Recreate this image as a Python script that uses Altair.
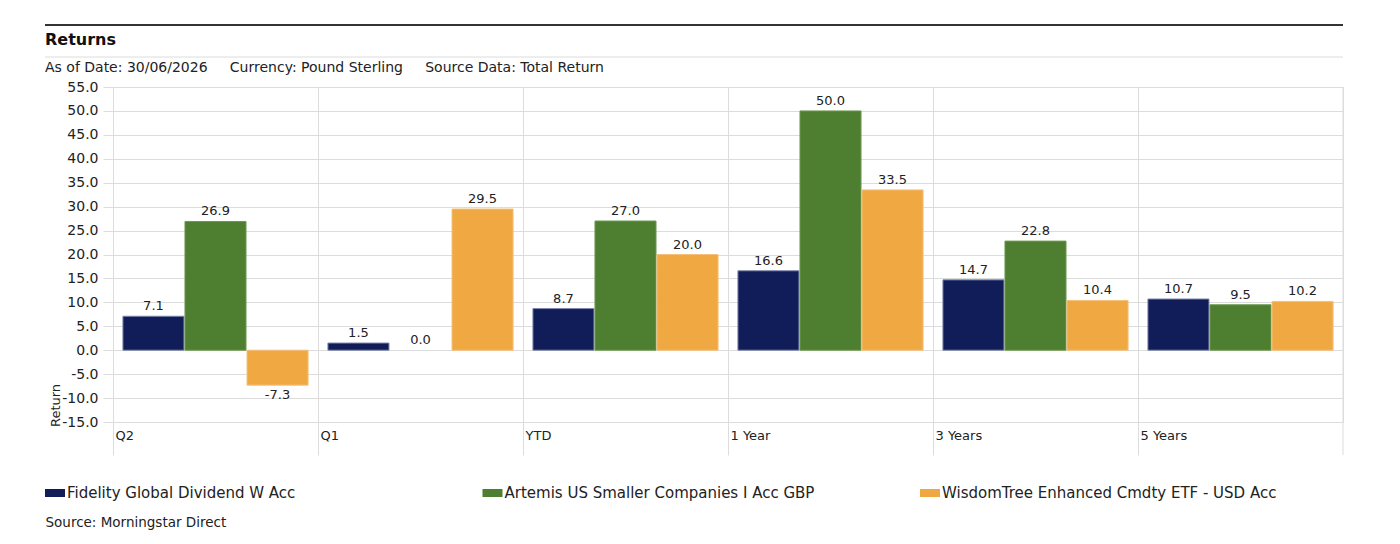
import altair as alt
import pandas as pd

periods = ["Q2", "Q1", "YTD", "1 Year", "3 Years", "5 Years"]
series = ["Fidelity Global Dividend W Acc",
          "Artemis US Smaller Companies I Acc GBP",
          "WisdomTree Enhanced Cmdty ETF - USD Acc"]
fidelity = [7.1, 1.5, 8.7, 16.6, 14.7, 10.7]
artemis = [26.9, 0.0, 27.0, 50.0, 22.8, 9.5]
wisdomtree = [-7.3, 29.5, 20.0, 33.5, 10.4, 10.2]
y_ticks = [-15, -10, -5, 0, 5, 10, 15, 20, 25, 30, 35, 40, 45, 50, 55]

colors = ["#111d59", "#4e7e2f", "#f0a843"]
strokes = ["#7f88ad", "#6f9a52", "#f5c07a"]

rows = []
for name, vals in zip(series, [fidelity, artemis, wisdomtree]):
    for p, v in zip(periods, vals):
        rows.append({"Period": p, "Series": name, "Return": v, "Label": f"{v:.1f}"})
df = pd.DataFrame(rows)

FONT = "DejaVu Sans"
GRID = "#dcdcdc"
TXT = "#222222"

x_enc = alt.X("Period:N", sort=periods,
              scale=alt.Scale(paddingInner=0, paddingOuter=0),
              axis=alt.Axis(title="Source: Morningstar Direct", titleX=-68, titleY=100,
                            titleAlign="left", titleBaseline="middle", titleFontWeight="normal",
                            titleFontSize=13.5, titleColor=TXT,
                            bandPosition=0, grid=True, gridColor=GRID, domain=False,
                            ticks=True, tickSize=33, tickColor=GRID,
                            labelAlign="left", labelAngle=0, labelPadding=-26, labelOffset=-100,
                            labelFontSize=13, labelColor=TXT))
xoff = alt.XOffset("Series:N", sort=series,
                   scale=alt.Scale(paddingInner=0.016, paddingOuter=0.16))
y_axis = alt.Axis(values=y_ticks, labelExpr="replace(format(datum.value, '.1f'), '\u2212', '-')",
                  labelOverlap=False, title="Return",
                  titleX=-58, titleY=318, titleAngle=270, titleAlign="center",
                  titleBaseline="middle", titleFontWeight="normal", titleFontSize=13,
                  titleColor=TXT,
                  grid=True, gridColor=GRID, domain=False, tickSize=10,
                  tickColor=GRID, labelPadding=5, labelFontSize=14,
                  labelColor=TXT)
y_scale = alt.Scale(domain=[-15, 55], nice=False, zero=True)
y_enc = alt.Y("Return:Q", scale=y_scale, axis=y_axis)

base = alt.Chart(df)

bars = base.mark_bar(strokeWidth=1).encode(
    x=x_enc, xOffset=xoff, y=y_enc,
    color=alt.Color("Series:N", sort=series,
                    scale=alt.Scale(domain=series, range=colors),
                    legend=alt.Legend(title=None, orient="none", legendX=-68, legendY=396,
                                      direction="horizontal", columns=3, gridAlign="all",
                                      columnPadding=80.5,
                                      symbolType="M-1,-0.4H1V0.4H-1Z", symbolSize=400,
                                      symbolStrokeWidth=0, labelFontSize=15,
                                      labelOffset=2, labelColor=TXT, labelLimit=600)),
    stroke=alt.Stroke("Series:N", scale=alt.Scale(domain=series, range=strokes), legend=None),
    strokeOpacity=alt.condition("datum.Return == 0", alt.value(0), alt.value(1)),
)

pos_text = base.transform_filter("datum.Return >= 0").mark_text(
    baseline="bottom", dy=-3, fontSize=13, color=TXT).encode(
    x=alt.X("Period:N", sort=periods), xOffset=alt.XOffset("Series:N", sort=series),
    y=alt.Y("Return:Q", scale=y_scale, axis=y_axis), text="Label:N")

neg_text = base.transform_filter("datum.Return < 0").mark_text(
    baseline="top", dy=4, fontSize=13, color=TXT).encode(
    x=alt.X("Period:N", sort=periods), xOffset=alt.XOffset("Series:N", sort=series),
    y=alt.Y("Return:Q", scale=y_scale, axis=y_axis), text="Label:N")

nb = "\u00a0" * 5
deco = alt.Chart(pd.DataFrame({"k": [0]}))
top_rule = deco.mark_rule(color="#333333", strokeWidth=2).encode(
    x=alt.value(-68), x2=alt.value(1230), y=alt.value(-62))
sub_rule = deco.mark_rule(color=GRID, strokeWidth=1).encode(
    x=alt.value(-68), x2=alt.value(1230), y=alt.value(-30))
right_rule = deco.mark_rule(color=GRID, strokeWidth=1).encode(
    x=alt.value(1230), y=alt.value(0), y2=alt.value(368))
title_txt = deco.mark_text(align="left", baseline="middle", fontSize=16, fontWeight="bold",
                           color="#111111").encode(
    x=alt.value(-68), y=alt.value(-47), text=alt.value("Returns"))
sub_txt = deco.mark_text(align="left", baseline="middle", fontSize=14, color=TXT).encode(
    x=alt.value(-68), y=alt.value(-19),
    text=alt.value("As of Date: 30/06/2026" + nb + "Currency: Pound Sterling" + nb + "Source Data: Total Return"))

chart = alt.layer(bars, pos_text, neg_text, top_rule, sub_rule, right_rule, title_txt, sub_txt).properties(
    width=1230, height=335,
    autosize=alt.AutoSizeParams(type="none"),
    padding={"left": 113, "top": 87, "right": 57, "bottom": 122},
).configure(font=FONT).configure_view(stroke=GRID).configure_axis(
    labelOverlap=False).configure_axisY(labelOverlap=False)

chart.save("out.html", embed_options={"renderer": "svg", "actions": False})
